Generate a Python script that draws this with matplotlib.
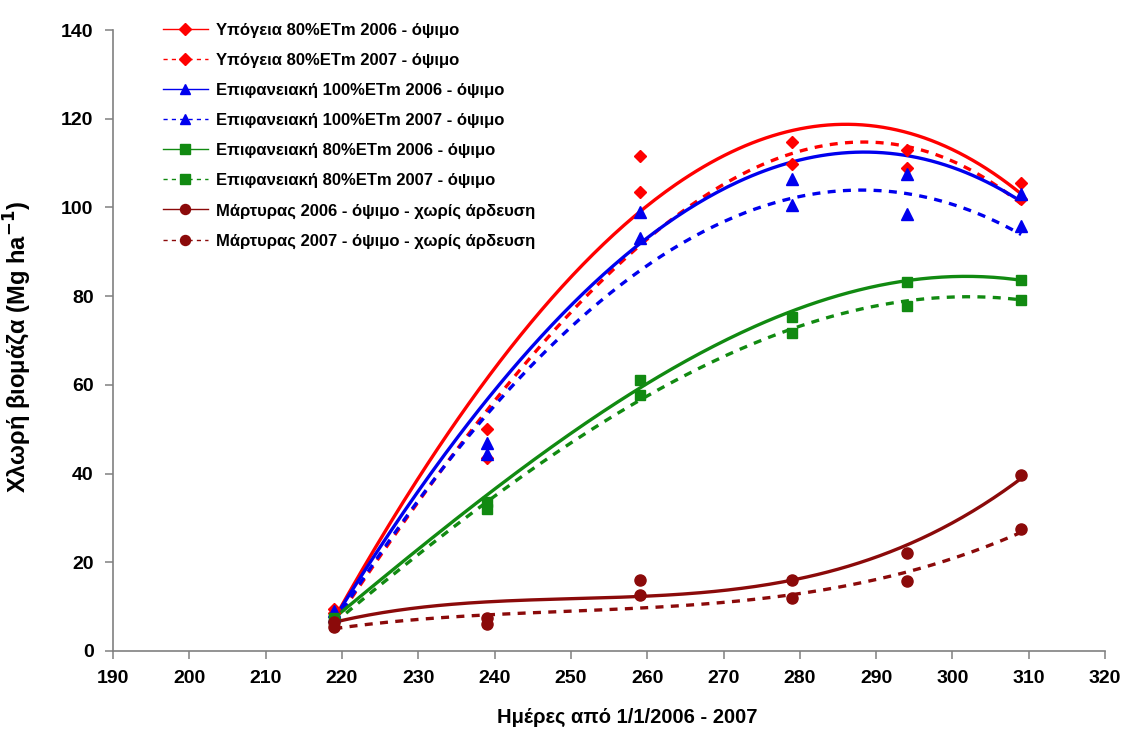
import numpy as np
import matplotlib
matplotlib.use("Agg")
import matplotlib.pyplot as plt
from matplotlib.lines import Line2D

plt.rcParams['font.family'] = ['Liberation Sans', 'DejaVu Sans']
plt.rcParams['font.weight'] = 'bold'
plt.rcParams['mathtext.default'] = 'bf'

# ---- data ----
days = [219, 239, 259, 279, 294, 309]

labels = [
    "Υπόγεια 80%ETm 2006 - όψιμο",
    "Υπόγεια 80%ETm 2007 - όψιμο",
    "Επιφανειακή 100%ETm 2006 - όψιμο",
    "Επιφανειακή 100%ETm 2007 - όψιμο",
    "Επιφανειακή 80%ETm 2006 - όψιμο",
    "Επιφανειακή 80%ETm 2007 - όψιμο",
    "Μάρτυρας 2006 - όψιμο - χωρίς άρδευση",
    "Μάρτυρας 2007 - όψιμο - χωρίς άρδευση",
]

# measured points
sub80_2006 = [9.5, 50.0, 111.5, 114.8, 113.0, 105.5]
sub80_2007 = [8.5, 43.5, 103.5, 109.8, 109.0, 101.8]
sur100_2006 = [9.0, 47.0, 99.0, 106.5, 107.5, 103.0]
sur100_2007 = [8.0, 44.5, 93.0, 100.5, 98.5, 95.8]
sur80_2006 = [7.5, 33.5, 61.2, 75.4, 83.3, 83.6]
sur80_2007 = [7.0, 32.0, 57.8, 71.7, 77.7, 79.2]
ctl_2006 = [6.5, 7.5, 15.9, 15.9, 22.0, 39.6]
ctl_2007 = [5.5, 6.0, 12.6, 12.0, 15.7, 27.6]

# trend-line readings at the same days (Excel polynomial trendlines)
tr_sub80_2006 = [7.5, 60.5, 100.5, 116.0, 117.5, 103.0]
tr_sub80_2007 = [6.5, 53.0, 93.0, 111.5, 113.5, 101.0]
tr_sur100_2006 = [8.0, 54.0, 95.0, 109.5, 110.5, 102.0]
tr_sur100_2007 = [7.0, 51.0, 88.5, 101.5, 102.0, 94.5]
tr_sur80_2006 = [7.5, 35.0, 59.5, 76.5, 83.5, 83.6]
tr_sur80_2007 = [6.5, 33.0, 57.3, 72.4, 78.7, 79.3]
tr_ctl_2006 = [6.5, 11.0, 12.4, 15.9, 23.9, 38.9]
tr_ctl_2007 = [5.0, 8.2, 9.8, 12.2, 18.3, 26.6]

x_ticks = [190, 200, 210, 220, 230, 240, 250, 260, 270, 280, 290, 300, 310, 320]
y_ticks = [0, 20, 40, 60, 80, 100, 120, 140]

series = [sub80_2006, sub80_2007, sur100_2006, sur100_2007,
          sur80_2006, sur80_2007, ctl_2006, ctl_2007]
trends = [tr_sub80_2006, tr_sub80_2007, tr_sur100_2006, tr_sur100_2007,
          tr_sur80_2006, tr_sur80_2007, tr_ctl_2006, tr_ctl_2007]

# ---- styles ----
colors = ['#ff0000', '#ff0000', '#0000ee', '#0000ee',
          '#118a11', '#118a11', '#8b0a0a', '#8b0a0a']
markers = ['D', 'D', '^', '^', 's', 's', 'o', 'o']
msizes = [6.5, 6.5, 8, 8, 7.5, 7.5, 8, 8]
dashed = (0, (2.4, 2.2))

fig = plt.figure(figsize=(11.26, 7.34), dpi=100)
ax = fig.add_axes([0.1004, 0.1131, 0.881, 0.846])

xs = np.linspace(days[0], days[-1], 200)
handles = []
for i, (y, t) in enumerate(zip(series, trends)):
    ls = '-' if i % 2 == 0 else dashed
    coef = np.polyfit(days, t, 3)
    ax.plot(xs, np.polyval(coef, xs), color=colors[i], lw=2.4, ls=ls, zorder=2)
    ax.plot(days, y, ls='none', marker=markers[i], ms=msizes[i],
            color=colors[i], mec=colors[i], zorder=3)
    handles.append(Line2D([], [], color=colors[i], lw=1.0,
                          ls='-' if i % 2 == 0 else (0, (3, 3)),
                          marker=markers[i], ms=msizes[i] * 0.9,
                          mec=colors[i]))

ax.set_xlim(190, 320)
ax.set_ylim(0, 140)
ax.set_xticks(x_ticks)
ax.set_yticks(y_ticks)
for s in ['top', 'right']:
    ax.spines[s].set_visible(False)
for s in ['left', 'bottom']:
    ax.spines[s].set_color('#808080')
    ax.spines[s].set_linewidth(1.2)
ax.tick_params(axis='both', direction='out', length=6, width=1.1,
               color='#808080', labelsize=14, pad=8)
for lab in ax.get_xticklabels() + ax.get_yticklabels():
    lab.set_fontweight('bold')

ax.set_xlabel("Ημέρες από 1/1/2006 - 2007", fontsize=14.5,
              fontweight='bold')
ax.xaxis.set_label_coords(0.518, -0.092)
ax.set_ylabel("Χλωρή βιομάζα (Mg ha$^{-1}$)", fontsize=17,
              fontweight='bold')
ax.yaxis.set_label_coords(-0.080, 0.49)

leg = ax.legend(handles, labels, loc='upper left',
                bbox_to_anchor=(0.04, 1.027), frameon=False,
                prop={'weight': 'bold', 'size': 12},
                handlelength=2.7, labelspacing=0.9, handletextpad=0.5,
                borderaxespad=0.2)

fig.savefig("out.png", dpi=100, facecolor='white')
